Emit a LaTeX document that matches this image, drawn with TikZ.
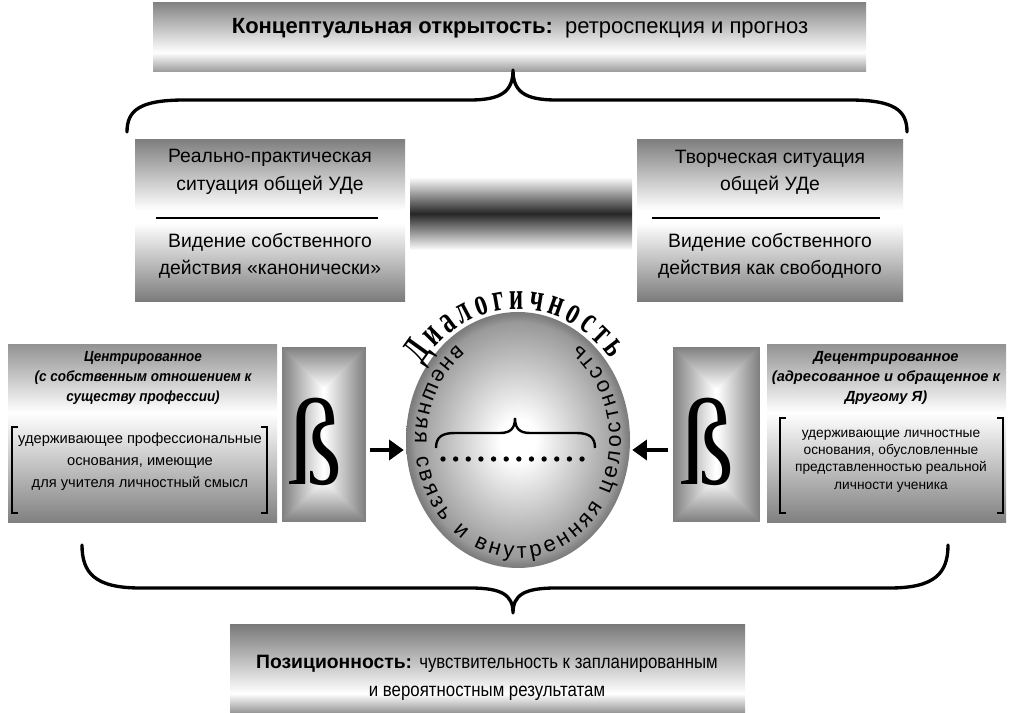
\documentclass[tikz,border=0pt]{standalone}
\usepackage{fontspec}
\setmainfont{Liberation Sans}
\newfontfamily\serifface{Liberation Serif}
\newfontfamily\dialface{Liberation Serif}[FakeStretch=0.64]
\newfontfamily\narrowb{Liberation Sans}[FakeStretch=0.87]
\newfontfamily\narrowc{Liberation Sans}[FakeStretch=0.92]
\usetikzlibrary{shapes.geometric, arrows.meta, decorations.text, calc}

\pgfdeclareverticalshading{topsh}{100bp}{color(0bp)=(black!40); color(25bp)=(black!40); color(39bp)=(white); color(75bp)=(black!48); color(100bp)=(black!48)}
\pgfdeclareverticalshading{titlesh}{100bp}{color(0bp)=(white); color(25bp)=(white); color(75bp)=(black!50); color(100bp)=(black!50)}
\pgfdeclareverticalshading{lowsh}{100bp}{color(0bp)=(black!52); color(25bp)=(black!52); color(75bp)=(white); color(100bp)=(white)}
\pgfdeclareverticalshading{barsh}{100bp}{color(0bp)=(white); color(25bp)=(white); color(50bp)=(black!85); color(75bp)=(white); color(100bp)=(white)}
\pgfdeclareverticalshading{sidesh}{100bp}{color(0bp)=(black!50); color(25bp)=(black!50); color(56bp)=(white); color(75bp)=(black!42); color(100bp)=(black!42)}
\pgfdeclareverticalshading{botsh}{100bp}{color(0bp)=(black!42); color(25bp)=(black!42); color(36bp)=(white); color(75bp)=(black!52); color(100bp)=(black!52)}
\pgfdeclareradialshading{ballsh}{\pgfpoint{0bp}{0bp}}{color(0bp)=(white); color(4bp)=(white); color(23bp)=(black!40); color(24.2bp)=(black!48); color(25bp)=(black!52); color(50bp)=(black!52)}

\tikzset{
  brace/.style={line width=2.5pt, line cap=round, line join=round},
  divider/.style={line width=2.2pt},
  bracket/.style={line width=1.2pt},
  arr/.style={line width=3pt, -{Triangle[length=11pt, width=15pt]}},
  txt/.style={align=center, inner sep=0pt},
  bigtxt/.style={txt, font=\fontsize{16.5}{21}\selectfont},
  uptxt/.style={txt, font=\fontsize{14.5}{20.5}\selectfont},
  ttltxt/.style={txt, font=\fontsize{11}{15}\selectfont\bfseries\itshape},
  brtxt/.style={txt, font=\fontsize{11}{16.5}\selectfont},
  brtxtr/.style={txt, font=\fontsize{10.3}{13}\selectfont},
  betatxt/.style={txt, font=\fontsize{92}{92}\selectfont\serifface},
}

\begin{document}
\begin{tikzpicture}[x=0.75pt, y=0.75pt]
\useasboundingbox (0,0) rectangle (1013,713);
\fill[white] (0,0) rectangle (1013,713);

% top box
\shade[shading=topsh] (153,641) rectangle (866,710);
\node[bigtxt] (top) at (520,685) {\textbf{Концептуальная открытость:}\ \ ретроспекция и прогноз};

% top brace
\draw[brace] (127,581) .. controls (127,603) and (140,613) .. (185,613) -- (470,613) .. controls (502,613) and (513,622) .. (513,643) .. controls (513,622) and (524,613) .. (556,613) -- (849,613) .. controls (894,613) and (907,603) .. (907,581);

% upper left box
\shade[shading=titlesh] (135,503) rectangle (405,573);
\shade[shading=lowsh] (135,411) rectangle (405,490);
\draw[divider] (156,495) -- (378,495);
\node[uptxt] (ul1) at (270,541) {Реально-практическая\\ситуация общей УДе};
\node[uptxt] (ul2) at (270,457) {Видение собственного\\действия «канонически»};

% center bar
\shade[shading=barsh] (410,463) rectangle (632,536);

% upper right box
\shade[shading=titlesh] (637,503) rectangle (903,573);
\shade[shading=lowsh] (637,411) rectangle (903,490);
\draw[divider] (652,495) -- (880,495);
\node[uptxt] (ur1) at (770,541) {Творческая ситуация\\общей УДе};
\node[uptxt] (ur2) at (770,457) {Видение собственного\\действия как свободного};

% lower left box
\shade[shading=sidesh] (8,190) rectangle (277,368);
\node[ttltxt, font=\fontsize{11}{15}\selectfont\narrowc\bfseries\itshape] (lt) at (143,335) {Центрированное\\(с собственным отношением к\\существу профессии)};
\node[brtxt] (lb) at (140,251) {удерживающее профессиональные\\основания, имеющие\\для учителя личностный смысл};
\draw[bracket] (18,286) -- (12,286) -- (12,200) -- (18,200);
\draw[bracket] (261,286) -- (267,286) -- (267,200) -- (261,200);

% left beta box
\foreach \i in {0,...,41} {
  \pgfmathsetmacro\c{50-50*\i/41}
  \fill[black!\c] (282+\i, 191+\i) rectangle (366-\i, 366-\i);
}
\node[minimum width=63pt, minimum height=131pt, inner sep=0pt] (betaL) at (324,278.5) {};
\node[betatxt] (bL) at (315,271) {\scalebox{0.88}[1]{ß}};

% right beta box
\foreach \i in {0,...,42} {
  \pgfmathsetmacro\c{50-50*\i/42}
  \fill[black!\c] (673+\i, 191+\i) rectangle (760-\i, 366-\i);
}
\node[minimum width=65pt, minimum height=131pt, inner sep=0pt] (betaR) at (716.5,278.5) {};
\node[betatxt] (bR) at (707,271) {\scalebox{0.88}[1]{ß}};

% right text box
\shade[shading=sidesh] (767,190) rectangle (1006,368);
\node[ttltxt] (rt) at (886,335) {Децентрированное\\(адресованное и обращенное к\\Другому Я)};
\node[brtxtr] (rb) at (891,252) {удерживающие личностные\\основания, обусловленные\\представленностью реальной\\личности ученика};
\draw[bracket] (786,295) -- (780,295) -- (780,200) -- (786,200);
\draw[bracket] (997,295) -- (1003,295) -- (1003,200) -- (997,200);

% ellipse
\node[ellipse, shade, shading=ballsh, minimum width=168pt, minimum height=192pt, inner sep=0pt] (ell) at (518,273) {};
\path[decorate, decoration={text along path, text align={fit to path}, text={|\fontsize{29}{29}\selectfont\dialface\bfseries|Диалогичность}}]
  (ell.center) ++(145:117 and 131) arc[start angle=145, end angle=38, x radius=117, y radius=131];
\path[decorate, decoration={text along path, text align={fit to path}, text={|\fontsize{16.5}{16.5}\selectfont|внешняя связь и внутренняя целостность}}]
  (ell.center) ++(126:103 and 118) arc[start angle=126, end angle=414, x radius=103, y radius=118];

% inner brace and dots
\draw[line width=1.8pt] (436,265) .. controls (436,276) and (442,280) .. (455,280) -- (500,280) .. controls (510,280) and (515,284) .. (515,295) .. controls (515,284) and (520,280) .. (530,280) -- (576,280) .. controls (589,280) and (595,276) .. (595,265);
\foreach \k in {0,...,11} \fill (443+12.64*\k, 254) circle[radius=2pt];

% arrows
\draw[arr] ($(betaL.east)+(4,-15.5)$) -- ($(ell.west)+(-2,-10)$);
\draw[arr] ($(betaR.west)+(-5,-15.5)$) -- ($(ell.east)+(2,-10)$);

% bottom brace
\draw[brace] (82,168) .. controls (82,140) and (95,125) .. (140,125) -- (470,125) .. controls (502,125) and (513,118) .. (513,100) .. controls (513,118) and (524,125) .. (556,125) -- (890,125) .. controls (935,125) and (948,140) .. (948,168);

% bottom box
\shade[shading=botsh] (230,0) rectangle (745,88);
\node[txt, font=\fontsize{14.5}{21}\selectfont] (bot) at (487,35) {\textbf{Позиционность:} {\narrowb чувствительность к запланированным}\\{\narrowb и вероятностным результатам}};
\end{tikzpicture}
\end{document}
